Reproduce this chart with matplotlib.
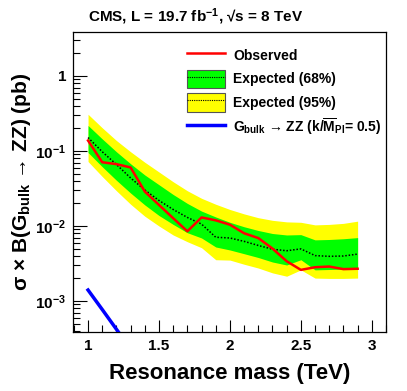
import math
import matplotlib
matplotlib.use("Agg")
import matplotlib.pyplot as plt
from matplotlib.patches import Patch
from matplotlib.lines import Line2D
from matplotlib.legend_handler import HandlerTuple
from matplotlib.ticker import LogLocator, MultipleLocator, NullFormatter, FixedLocator, FuncFormatter

plt.rcParams['font.family'] = ['Liberation Sans', 'DejaVu Sans']
plt.rcParams['font.weight'] = 'bold'
plt.rcParams['mathtext.fontset'] = 'custom'
plt.rcParams['mathtext.rm'] = 'Liberation Sans:bold'
plt.rcParams['mathtext.it'] = 'Liberation Sans:bold'
plt.rcParams['mathtext.bf'] = 'Liberation Sans:bold'
plt.rcParams['mathtext.sf'] = 'Liberation Sans:bold'

# ---- data ----
mass = [1.0, 1.1, 1.2, 1.3, 1.4, 1.5, 1.6, 1.7, 1.8, 1.9,
        2.0, 2.1, 2.2, 2.3, 2.4, 2.5, 2.6, 2.7, 2.8, 2.9]
observed = [0.138, 0.0708, 0.0668, 0.0603, 0.0288, 0.0191, 0.0127, 0.0085, 0.0130, 0.0119,
            0.0104, 0.0080, 0.0069, 0.0050, 0.00339, 0.0026, 0.00282, 0.00288, 0.00266, 0.00269]
expected = [0.151, 0.0977, 0.0661, 0.0437, 0.0302, 0.0219, 0.0166, 0.0130, 0.0106, 0.00708,
            0.00692, 0.00624, 0.00550, 0.00490, 0.00468, 0.00495, 0.00403, 0.00394, 0.00398, 0.00422]
exp68_up = [0.219, 0.145, 0.0977, 0.0676, 0.0479, 0.0355, 0.0263, 0.0200, 0.0158, 0.0132,
            0.0112, 0.00977, 0.00871, 0.00794, 0.00759, 0.00767, 0.00653, 0.00661, 0.00676, 0.00700]
exp68_dn = [0.0955, 0.0617, 0.0407, 0.0275, 0.0191, 0.0138, 0.0105, 0.00813, 0.00692, 0.00525,
            0.00479, 0.00427, 0.00380, 0.00331, 0.00302, 0.00355, 0.00260, 0.00263, 0.00266, 0.00269]
exp95_up = [0.309, 0.204, 0.138, 0.0977, 0.0708, 0.0525, 0.0389, 0.0295, 0.0234, 0.0195,
            0.0166, 0.0145, 0.0129, 0.0119, 0.01135, 0.0112, 0.01035, 0.0105, 0.01084, 0.0116]
exp95_dn = [0.0724, 0.0457, 0.0295, 0.0195, 0.0135, 0.0100, 0.00759, 0.00617, 0.00513, 0.00355,
            0.00351, 0.00309, 0.00275, 0.00237, 0.00214, 0.00260, 0.00202, 0.00200, 0.00200, 0.00202]
theory_mass = [1.0, 1.1, 1.2, 1.3, 1.4]
theory_xs = [1.40e-3, 7.7e-4, 4.2e-4, 2.3e-4, 1.3e-4]

xticks = [1, 1.5, 2, 2.5, 3]
xtick_labels = ['1', '1.5', '2', '2.5', '3']

fig = plt.figure(figsize=(4.07, 3.91), dpi=100)
ax = fig.add_axes([73/407, 59/391, 313/407, 300/391])

yellow = '#ffff00'
green = '#00ff00'
ax.fill_between(mass, exp95_dn, exp95_up, color=yellow, lw=0, zorder=1)
ax.fill_between(mass, exp68_dn, exp68_up, color=green, lw=0, zorder=2)
ax.plot(mass, expected, color='black', ls=(0, (1, 1.2)), lw=1.1, zorder=3)
ax.plot(mass, observed, color='#ff0000', lw=1.8, zorder=4)
ax.plot(theory_mass, theory_xs, color='#0000ff', lw=2.5, zorder=4)

ax.set_yscale('log')
ax.set_xlim(0.894, 3.1)
ax.set_ylim(3.86e-4, 3.86)

ax.xaxis.set_major_locator(FixedLocator(xticks))
ax.set_xticklabels(xtick_labels)
ax.xaxis.set_minor_locator(MultipleLocator(0.1))
ax.yaxis.set_major_locator(LogLocator(base=10, numticks=10))
ax.yaxis.set_minor_locator(LogLocator(base=10, subs=range(2, 10), numticks=20))
ax.yaxis.set_minor_formatter(NullFormatter())
ax.yaxis.set_major_formatter(FuncFormatter(
    lambda v, p: '1' if abs(v - 1) < 1e-9 else ('$10^{%d}$' % round(math.log10(v)))))

ax.tick_params(axis='both', which='major', direction='in', length=9, width=0.8,
               labelsize=11, top=False, right=False, pad=5)
ax.tick_params(axis='both', which='minor', direction='in', length=5, width=0.8,
               top=False, right=False)
ax.tick_params(axis='y', which='major', length=10)
for lab in ax.get_xticklabels() + ax.get_yticklabels():
    lab.set_fontweight('bold')
for s in ax.spines.values():
    s.set_linewidth(0.9)

ax.set_xlabel('Resonance mass (TeV)', fontsize=16, fontweight='bold', labelpad=7)
ax.set_ylabel('σ × B(G$_{\\mathrm{bulk}}$ → ZZ) (pb)', fontsize=15, fontweight='bold')
ax.yaxis.set_label_coords(-0.128, 0.5)

fig.text(88/407, 1 - 17/391, 'CMS, L = 19.7 fb$^{-1}$, √s = 8 TeV', fontsize=11,
         fontweight='bold', ha='left', va='center')

handles = [
    Line2D([], [], color='#ff0000', lw=1.8),
    (Patch(facecolor=green, edgecolor='#555555', lw=0.8),
     Line2D([], [], color='black', ls=(0, (1, 1)), lw=0.8)),
    (Patch(facecolor=yellow, edgecolor='#555555', lw=0.8),
     Line2D([], [], color='black', ls=(0, (1, 1)), lw=0.8)),
    Line2D([], [], color='#0000ff', lw=2.5),
]
labels = ['Observed', 'Expected (68%)', 'Expected (95%)',
          'G$_{\\mathrm{bulk}}$ → ZZ (k/$\\overline{\\mathrm{M}}_{\\mathrm{Pl}}$= 0.5)']
leg = ax.legend(handles, labels, loc='upper left', bbox_to_anchor=(0.345, 0.972),
                frameon=False, fontsize=10, handlelength=2.75, handleheight=1.7,
                handletextpad=0.6, labelspacing=0.35, borderaxespad=0,
                handler_map={tuple: HandlerTuple(ndivide=1, pad=0)})
for t in leg.get_texts():
    t.set_fontweight('bold')

fig.savefig('out.png', dpi=100)
